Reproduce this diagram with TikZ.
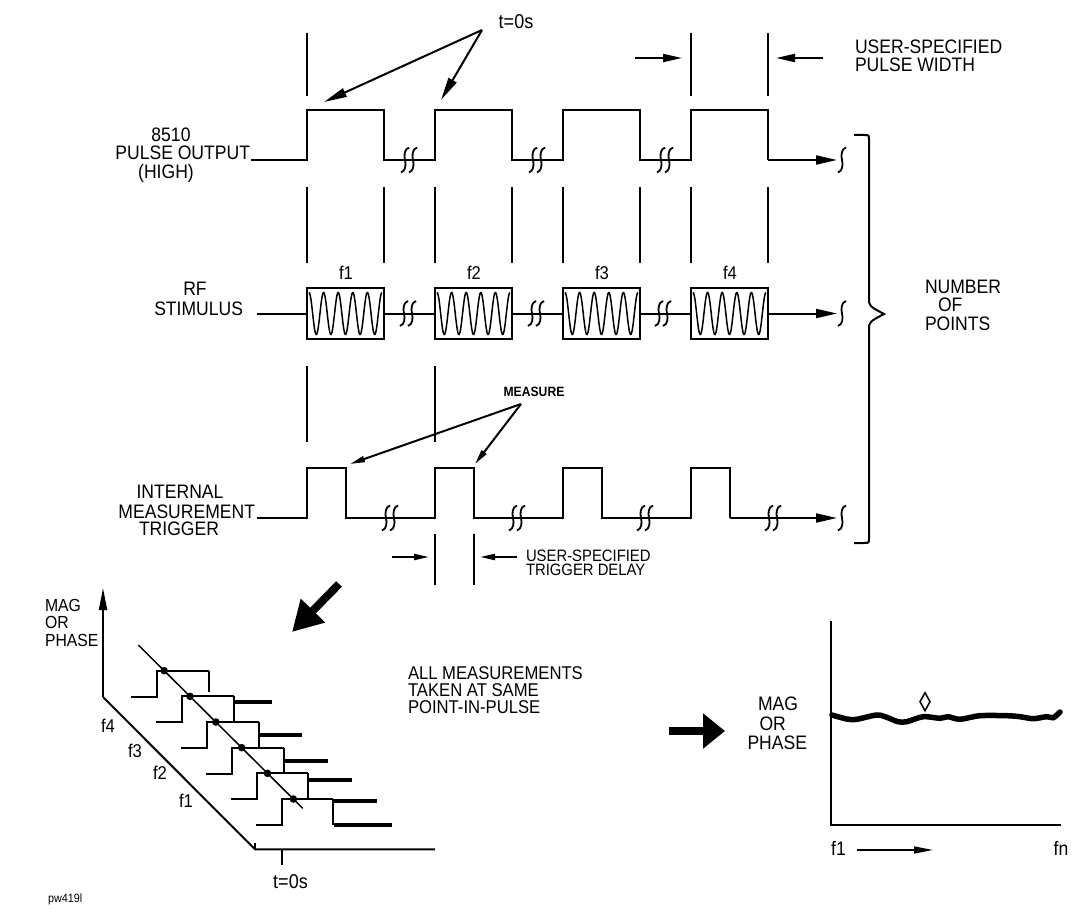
\documentclass[tikz,border=0pt]{standalone}
\usepackage{fontspec}
\setmainfont{Liberation Sans}[FakeStretch=0.9]
\usetikzlibrary{arrows.meta}
\tikzset{
  every node/.style={inner sep=0pt, outer sep=0pt},
  lbl/.style={font=\fontsize{19.5}{15}\selectfont},
  sml/.style={font=\fontsize{16.5}{14.5}\selectfont},
  fl/.style={font=\fontsize{18.5}{18}\selectfont},
  ah/.style={-{Triangle[length=19pt,width=8pt]}},
  ahs/.style={-{Triangle[length=15pt,width=6pt]}},
  ahl/.style={-{Triangle[length=23pt,width=9pt]}},
  ahe/.style={-{Triangle[length=21pt,width=9pt]}},
  thk/.style={line width=4pt},
  brk/.pic={\draw[line width=1.8pt] (0,-12.5) .. controls (-5,-11) and (-5,-4) .. (-4,0) .. controls (-3,4) and (-3,11) .. (-8,12.5);
            \draw[line width=1.8pt] (8,-12.5) .. controls (3,-11) and (3,-4) .. (4,0) .. controls (5,4) and (5,11) .. (0,12.5);},
  sq/.pic={\draw[line width=1.8pt] (4,-12.5) .. controls (-1,-11) and (-1,-4) .. (0,0) .. controls (1,4) and (1,11) .. (-4,12.5);},
}
\begin{document}
\begin{tikzpicture}[x=1pt,y=-1pt,line width=2pt]
\useasboundingbox (0,0) rectangle (1074,912);

% ---------- top annotations ----------
\node[font=\fontsize{20}{20}\selectfont] (t0) at (516,22) {t=0s};
\coordinate (t0s) at (482,30);
\coordinate (a1) at (324,102);
\coordinate (a2) at (441,100);
\draw[ahl] (t0s) -- (a1);
\draw[ahl] (t0s) -- (a2);
\foreach \x in {307,691,768} \draw (\x,33) -- (\x,96);
\coordinate (pwl0) at (635,58); \coordinate (pwl1) at (682,58);
\coordinate (pwr0) at (823,58); \coordinate (pwr1) at (776,58);
\draw[ah] (pwl0) -- (pwl1);
\draw[ah] (pwr0) -- (pwr1);
\node[lbl, anchor=base west] (usp) at (855,53.3) {USER-SPECIFIED};
\node[lbl, anchor=base west] (pwd) at (855,71.7) {PULSE WIDTH};

% ---------- pulse output ----------
\node[lbl] (n8510) at (171,135) {8510};
\node[lbl, anchor=base east] (npo) at (250,160) {PULSE OUTPUT};
\node[lbl] (nhigh) at (166,173.5) {(HIGH)};
\draw (251,160) foreach \a in {307,435,563,691} { -- (\a,160) -- (\a,110) -- (\a+77,110) -- (\a+77,160) };
\coordinate (po0) at (768,160); \coordinate (po1) at (837,160);
\draw[ahe] (po0) -- (po1);
\pic at (842,160) {sq};
\foreach \x in {409,537,665} \pic at (\x,160) {brk};
\foreach \a in {307,435,563,691} {\draw (\a,187) -- (\a,263); \draw (\a+77,187) -- (\a+77,263);}

% ---------- RF stimulus ----------
\node[lbl] (nrf) at (195,289) {RF};
\node[lbl, anchor=base east] (nstim) at (243,315) {STIMULUS};
\foreach \a/\f in {307/1,435/2,563/3,691/4} {
  \node[fl] (f\f) at (\a+39,273) {f\f};
  \draw (\a,288) rectangle (\a+77,339);
  \draw[line width=1.5pt, domain=0:1, samples=150, smooth, variable=\t] plot ({\a+2+73*\t},{313.5-21*cos(1800*\t)});
}
\draw (257,313.5) -- (307,313.5);
\foreach \a in {384,512,640} \draw (\a,313.5) -- (\a+51,313.5);
\coordinate (rf0) at (768,313.5); \coordinate (rf1) at (837,313.5);
\draw[ahe] (rf0) -- (rf1);
\pic at (842,313.5) {sq};
\foreach \x in {408,536,663} \pic at (\x,313.5) {brk};
\draw (307,366) -- (307,442);
\draw (435,366) -- (435,442);

% ---------- trigger ----------
\node[lbl] (nint) at (180,492) {INTERNAL};
\node[lbl, anchor=base east] (nmeas) at (255,518) {MEASUREMENT};
\node[lbl] (ntrig) at (179,529) {TRIGGER};
\draw (257,518) foreach \a in {307,435,563,691} { -- (\a,518) -- (\a,467.5) -- (\a+39,467.5) -- (\a+39,518) };
\coordinate (tr0) at (730,518); \coordinate (tr1) at (837,518);
\draw[ahe] (tr0) -- (tr1);
\pic at (842,518) {sq};
\foreach \x in {390,517,645,773} \pic at (\x,518) {brk};
\node[font=\bfseries\fontsize{13.5}{13.5}\selectfont] (meas) at (534,392) {MEASURE};
\coordinate (ms) at (521,404);
\coordinate (m1) at (350,464); \coordinate (m2) at (475,464);
\draw[ahs] (ms) -- (m1);
\draw[ahs] (ms) -- (m2);
\draw (435,534) -- (435,585);
\draw (474,534) -- (474,585);
\coordinate (dl0) at (392,557); \coordinate (dl1) at (429,557);
\coordinate (dr0) at (517,557); \coordinate (dr1) at (480,557);
\draw[ahs] (dl0) -- (dl1);
\draw[ahs] (dr0) -- (dr1);
\node[sml, anchor=base west] (usp2) at (526,561) {USER-SPECIFIED};
\node[sml, anchor=base west] (tdl) at (526,575.5) {TRIGGER DELAY};

% ---------- brace ----------
\draw (854,135) -- (864,135) .. controls (869,135) .. (869,140) -- (869,298)
  .. controls (869,306) .. (884,314) .. controls (869,322) .. (869,330) -- (869,538)
  .. controls (869,543) .. (864,543) -- (854,543);
\node[lbl, anchor=base west] (nnum) at (925,293.5) {NUMBER};
\node[lbl, anchor=base west] (nof) at (938,311.5) {OF};
\node[lbl, anchor=base west] (npts) at (925,330) {POINTS};

% ---------- bottom left 3D plot ----------
\node[font=\fontsize{17.5}{15}\selectfont, anchor=base west] (lmag) at (45,611) {MAG};
\node[font=\fontsize{17.5}{15}\selectfont, anchor=base west] (lor) at (45,628.5) {OR};
\node[font=\fontsize{17.5}{15}\selectfont, anchor=base west] (lph) at (45,646) {PHASE};
\coordinate (ax0) at (103,697); \coordinate (axt) at (103,588);
\coordinate (ax1) at (255,849.3); \coordinate (ax2) at (435,849.3);
\draw[-{Triangle[length=22pt,width=8pt]}] (ax0) -- (axt);
\draw (ax0) -- (ax1) -- (ax2);
\draw (255,842.5) -- (ax1);
\draw (281.7,849.3) -- (281.7,865);
\node[font=\fontsize{20}{20}\selectfont] (tb) at (290.5,881.5) {t=0s};
\node[fl] (g4) at (108,726) {f4};
\node[fl] (g3) at (135,751) {f3};
\node[fl] (g2) at (160,773) {f2};
\node[fl] (g1) at (186,801) {f1};
\foreach \k in {0,...,5} {
  \pgfmathsetmacro{\xr}{157.3+24.9*\k}
  \pgfmathsetmacro{\yb}{696.7+25.66*\k}
  \pgfmathsetmacro{\yt}{\yb-26}
  \pgfmathsetmacro{\xf}{\xr+51.5}
  \draw (\xr-26,\yb) -- (\xr,\yb) -- (\xr,\yt) -- (\xf,\yt);
  \pgfmathsetmacro{\xd}{138.3+(\yt-645)*1.007}
  \fill (\xd,\yt) circle (3.8pt);
}
\draw (208.8,670.7) -- (208.8,691.7);
\foreach \k/\ty/\len in {1/6/38,2/13/43,3/13/44,4/6.7/44,5/2.4/44} {
  \pgfmathsetmacro{\xr}{157.3+24.9*\k}
  \pgfmathsetmacro{\yb}{696.7+25.66*\k}
  \pgfmathsetmacro{\yt}{\yb-26}
  \pgfmathsetmacro{\xf}{\xr+51.5}
  \draw (\xf,\yt) -- (\xf,\yb);
  \draw[thk] (\xf,\yt+\ty) -- (\xf+\len,\yt+\ty);
}
\draw[thk] (333.8,825) -- (391.7,825);
\coordinate (dg0) at (138.3,645); \coordinate (dg1) at (302.7,808.3);
\draw[line width=1.5pt] (dg0) -- (dg1);
\coordinate (ba0) at (339,584); \coordinate (ba1) at (292,632);
\draw[line width=8pt,-{Triangle[length=30pt,width=32pt]}] (ba0) -- (ba1);
\node[anchor=north west, align=left, font=\fontsize{18.5}{17}\selectfont] (all) at (408,667)
  {ALL MEASUREMENTS\\TAKEN AT SAME\\POINT-IN-PULSE};

% ---------- bottom right plot ----------
\coordinate (ra0) at (669,731); \coordinate (ra1) at (725,731);
\draw[line width=8pt,-{Triangle[length=22pt,width=34pt]}] (ra0) -- (ra1);
\node[lbl, anchor=base west] (rmag) at (758,710.7) {MAG};
\node[lbl, anchor=base west] (ror) at (759.5,730) {OR};
\node[lbl, anchor=base west] (rph) at (747.5,749.3) {PHASE};
\coordinate (rv0) at (831,621); \coordinate (ro) at (831,825); \coordinate (rh1) at (1061,825);
\draw (rv0) -- (ro) -- (rh1);
\draw[line width=5.5pt, line cap=round] plot[smooth] coordinates {(832,715) (846.7,719) (856.7,719.3) (876.7,715) (886.7,717.3) (898,721.7) (906.7,721.7) (923.3,716.7) (940,718.3) (948,716.7) (960,719.3) (980,715.7) (1006.7,715.7) (1020,716.7) (1033.3,718.7) (1046.7,716.7) (1053.3,717.7) (1060,712)};
\draw[line width=1.5pt] (925,692.7) -- (930,701.7) -- (925,710.7) -- (920,701.7) -- cycle;
\node[lbl] (rf1l) at (838.5,848) {f1};
\node[lbl] (rfn) at (1061,848) {fn};
\coordinate (fa0) at (857,850); \coordinate (fa1) at (933,850);
\draw[line width=1.5pt,-{Triangle[length=19pt,width=7pt]}] (fa0) -- (fa1);

\node[font=\fontsize{12}{12}\selectfont, anchor=base west] (pw) at (48,902) {pw419l};
\end{tikzpicture}
\end{document}
